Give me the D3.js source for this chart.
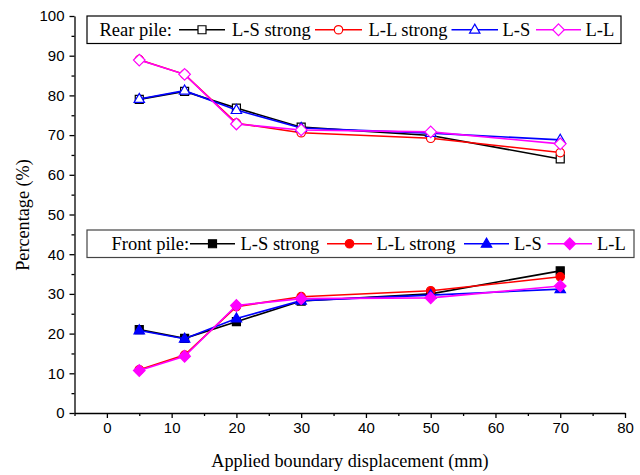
<!DOCTYPE html>
<html><head><meta charset="utf-8">
<script src="https://cdn.jsdelivr.net/npm/d3@7"></script>
<style>body{margin:0;background:#fff}svg{display:block}
.serif{font-family:"Liberation Serif","Times New Roman",serif}
.sans{font-family:"Liberation Sans",Arial,sans-serif}
</style>
</head><body>
<svg id="c" width="640" height="475"></svg>
<script>
const xValues = [5, 12, 20, 30, 50, 70];
const seriesNames = ["L-S strong", "L-L strong", "L-S", "L-L"];
const seriesColors = ["#000000", "#ff0000", "#0000ff", "#ff00ff"];
const seriesSymbols = ["square", "circle", "triangle", "diamond"];
const rearLSStrong = [79.0, 81.0, 76.8, 72.0, 69.9, 64.0];
const rearLLStrong = [89.0, 85.3, 73.0, 70.6, 69.2, 65.6];
const rearLS = [79.1, 81.2, 76.3, 71.8, 70.5, 68.8];
const rearLL = [88.9, 85.3, 72.8, 71.3, 70.8, 67.8];
const frontLSStrong = [21.0, 18.8, 23.0, 28.2, 30.0, 35.8];
const frontLLStrong = [10.9, 14.6, 26.8, 29.3, 30.8, 34.3];
const frontLS = [20.8, 18.7, 23.8, 28.3, 29.7, 31.2];
const frontLL = [10.7, 14.3, 27.1, 28.8, 29.0, 32.0];
const xTicks = [0, 10, 20, 30, 40, 50, 60, 70, 80];
const yTicks = [0, 10, 20, 30, 40, 50, 60, 70, 80, 90, 100];

const svg = d3.select("#c");
const x = d3.scaleLinear().domain([-5, 80]).range([74.5, 625]);
const y = d3.scaleLinear().domain([0, 100]).range([413, 16]);

const xAxis = d3.axisBottom(x).tickValues(xTicks).tickSize(5).tickSizeOuter(0).tickPadding(4).tickFormat(d3.format("d"));
svg.append("g").attr("transform", "translate(0,413)").call(xAxis);
svg.append("g").attr("transform", "translate(0,413)")
  .call(d3.axisBottom(x).tickValues(d3.range(-5, 80, 10)).tickSize(3).tickSizeOuter(0).tickFormat(""))
  .select(".domain").remove();
const yAxis = d3.axisLeft(y).tickValues(yTicks).tickSize(5).tickSizeOuter(0).tickPadding(5).tickFormat(d3.format("d"));
svg.append("g").attr("transform", "translate(74.5,0)").call(yAxis);
svg.append("g").attr("transform", "translate(74.5,0)")
  .call(d3.axisLeft(y).tickValues(d3.range(5, 100, 10)).tickSize(3).tickSizeOuter(0).tickFormat(""))
  .select(".domain").remove();
svg.selectAll(".domain, .tick line").attr("stroke", "#000").attr("stroke-width", 1.3);
svg.selectAll(".tick text").attr("class", "sans").attr("font-family", null).attr("font-size", 15).attr("fill", "#000");

svg.append("text").attr("class", "serif").attr("x", 350).attr("y", 467).attr("text-anchor", "middle")
  .attr("font-size", 18.2).text("Applied boundary displacement (mm)");
svg.append("text").attr("class", "serif").attr("transform", "translate(29,215) rotate(-90)").attr("text-anchor", "middle")
  .attr("font-size", 18.2).text("Percentage (%)");

function symbolPath(type) {
  if (type === "diamond") return "M0,-5.8L5.8,0L0,5.8L-5.8,0Z";
  if (type === "triangle") return "M0,-5.6L5.2,3.4L-5.2,3.4Z";
  if (type === "square") return "M-4,-4H4V4H-4Z";
  return d3.symbol().type(d3.symbolCircle).size(56)();
}

function drawSeries(vals, i, filled) {
  const data = xValues.map((v, k) => [v, vals[k]]);
  const line = d3.line().x(d => x(d[0])).y(d => y(d[1]));
  svg.append("path").attr("d", line(data)).attr("fill", "none")
    .attr("stroke", seriesColors[i]).attr("stroke-width", 1.6);
  svg.append("g").selectAll("path").data(data).join("path")
    .attr("transform", d => `translate(${x(d[0])},${y(d[1])})`)
    .attr("d", symbolPath(seriesSymbols[i]))
    .attr("fill", filled ? seriesColors[i] : "#fff")
    .attr("stroke", seriesColors[i]).attr("stroke-width", 1.2);
}

[rearLSStrong, rearLLStrong, rearLS, rearLL].forEach((s, i) => drawSeries(s, i, false));
[frontLSStrong, frontLLStrong, frontLS, frontLL].forEach((s, i) => drawSeries(s, i, true));

function legend(x0, y0, w, h, title, titleX, items, filled, stroke) {
  const g = svg.append("g");
  g.append("rect").attr("x", x0).attr("y", y0).attr("width", w).attr("height", h)
    .attr("fill", "#fff").attr("stroke", stroke).attr("stroke-width", 1.2);
  const cy = y0 + h / 2;
  g.append("text").attr("class", "serif").attr("x", titleX).attr("y", cy + 6)
    .attr("font-size", 18.5).text(title);
  items.forEach((it, i) => {
    g.append("line").attr("x1", it[0]).attr("x2", it[1]).attr("y1", cy).attr("y2", cy)
      .attr("stroke", seriesColors[i]).attr("stroke-width", 1.6);
    g.append("path").attr("transform", `translate(${(it[0] + it[1]) / 2},${cy})`)
      .attr("d", symbolPath(seriesSymbols[i]))
      .attr("fill", filled ? seriesColors[i] : "#fff").attr("stroke", seriesColors[i]).attr("stroke-width", 1.2);
    g.append("text").attr("class", "serif").attr("x", it[2]).attr("y", cy + 6)
      .attr("font-size", 18.5).text(seriesNames[i]);
  });
}

legend(87, 16, 534, 27.5, "Rear pile:", 99.5,
  [[179, 225, 232], [315, 362, 368.5], [451.5, 498, 502.5], [536, 581, 585.5]], false, "#000");
legend(87, 230, 547, 27.5, "Front pile:", 111.5,
  [[190, 235, 240.5], [327, 372, 376.5], [464, 509, 514], [547.5, 592, 597]], true, "#444");
</script>
</body></html>
